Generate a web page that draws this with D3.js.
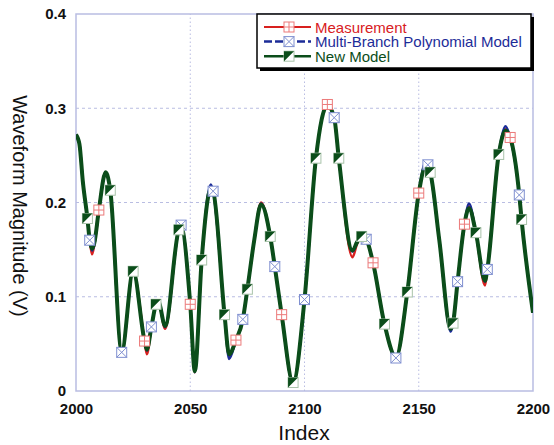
<!DOCTYPE html>
<html>
<head>
<meta charset="utf-8">
<script src="https://cdn.jsdelivr.net/npm/d3@7"></script>
<style>
  body { margin: 0; background: #fff; }
  svg { display: block; font-family: Arial, "Liberation Sans", sans-serif; }
</style>
</head>
<body>
<svg id="chart" width="554" height="445"></svg>
<script>
// knots of the three waveforms
var idx = [2000, 2001.5, 2003, 2005, 2006, 2007, 2008, 2010, 2013, 2015,
  2020, 2025, 2030, 2031, 2033, 2035, 2036, 2039, 2045, 2046,
  2050, 2052, 2055, 2059, 2060, 2065, 2067, 2070, 2073, 2075,
  2078, 2081, 2085, 2087, 2090, 2095, 2100, 2105, 2110, 2113,
  2115, 2121, 2123, 2125, 2127, 2130, 2135, 2140, 2145, 2150,
  2153, 2154, 2155, 2159, 2164, 2165, 2167, 2170, 2172, 2175,
  2179, 2180, 2185, 2188, 2190, 2194, 2195, 2200]
var measured = [0.272, 0.262, 0.222, 0.183, 0.160, 0.145, 0.155, 0.192, 0.232, 0.213,
  0.041, 0.127, 0.053, 0.039, 0.068, 0.092, 0.095, 0.066, 0.171, 0.175,
  0.092, 0.020, 0.139, 0.216, 0.212, 0.081, 0.037, 0.054, 0.076, 0.108,
  0.160, 0.200, 0.164, 0.132, 0.081, 0.008, 0.097, 0.247, 0.304, 0.290,
  0.247, 0.142, 0.156, 0.164, 0.161, 0.136, 0.071, 0.035, 0.105, 0.210,
  0.240, 0.238, 0.232, 0.160, 0.065, 0.072, 0.116, 0.177, 0.196, 0.168,
  0.112, 0.129, 0.251, 0.278, 0.269, 0.208, 0.182, 0.083]
var mbp = [0.272, 0.262, 0.222, 0.183, 0.160, 0.149, 0.155, 0.192, 0.232, 0.213,
  0.041, 0.127, 0.053, 0.043, 0.068, 0.092, 0.095, 0.068, 0.171, 0.176,
  0.092, 0.020, 0.139, 0.219, 0.212, 0.081, 0.034, 0.054, 0.076, 0.108,
  0.160, 0.199, 0.164, 0.132, 0.081, 0.008, 0.097, 0.247, 0.304, 0.290,
  0.247, 0.148, 0.157, 0.164, 0.161, 0.136, 0.071, 0.035, 0.105, 0.210,
  0.243, 0.240, 0.232, 0.160, 0.063, 0.072, 0.116, 0.177, 0.199, 0.168,
  0.116, 0.129, 0.251, 0.281, 0.269, 0.208, 0.182, 0.083]
var newModel = [0.272, 0.262, 0.222, 0.183, 0.160, 0.151, 0.157, 0.192, 0.232, 0.213,
  0.042, 0.127, 0.053, 0.044, 0.068, 0.092, 0.095, 0.069, 0.171, 0.174,
  0.092, 0.021, 0.139, 0.214, 0.212, 0.081, 0.039, 0.054, 0.076, 0.108,
  0.160, 0.198, 0.164, 0.132, 0.081, 0.009, 0.097, 0.247, 0.303, 0.290,
  0.247, 0.149, 0.158, 0.164, 0.161, 0.136, 0.071, 0.036, 0.105, 0.210,
  0.238, 0.237, 0.232, 0.160, 0.066, 0.072, 0.116, 0.177, 0.194, 0.168,
  0.117, 0.129, 0.251, 0.276, 0.269, 0.208, 0.182, 0.083]

// where each series shows its markers
var measMarks = [2010, 2030, 2050, 2070, 2090, 2110, 2130, 2150, 2170, 2190]
var mbpMarks = [2006, 2020, 2033, 2046, 2060, 2073, 2087, 2100, 2113, 2127, 2140, 2154, 2167, 2180, 2194]
var newMarks = [2005, 2015, 2025, 2035, 2045, 2055, 2065, 2075, 2085, 2095, 2105, 2115, 2125, 2135, 2145, 2155, 2165, 2175, 2185, 2195]

var xTicks = [2000, 2050, 2100, 2150, 2200]
var yTicks = [0, 0.1, 0.2, 0.3, 0.4]

var RED = "#d8201e", BLUE = "#1c2c98", GREEN = "#0b4d1a"
var FRAME = "#b9bde2"

var svg = d3.select("#chart")
var x = d3.scaleLinear().domain([2000, 2200]).range([76, 533])
var y = d3.scaleLinear().domain([0, 0.4]).range([391, 14])

// grid
svg.selectAll(".hgrid")
  .data([0.1, 0.2, 0.3])
  .enter()
  .append("line")
  .attr("x1", x(2000)).attr("x2", x(2200))
  .attr("y1", function(d) {return y(d)}).attr("y2", function(d) {return y(d)})
  .attr("stroke", FRAME).attr("stroke-width", 1)
  .attr("stroke-dasharray", "3,3")
svg.selectAll(".vgrid")
  .data([2050, 2100, 2150])
  .enter()
  .append("line")
  .attr("x1", function(d) {return x(d)}).attr("x2", function(d) {return x(d)})
  .attr("y1", y(0)).attr("y2", y(0.4))
  .attr("stroke", FRAME).attr("stroke-width", 1)
  .attr("stroke-dasharray", "1.5,2.5")

// frame
svg.append("rect")
  .attr("x", x(2000)).attr("y", y(0.4))
  .attr("width", x(2200) - x(2000)).attr("height", y(0) - y(0.4))
  .attr("fill", "none").attr("stroke", FRAME).attr("stroke-width", 1.5)

// axes as tick labels only
var xAxis = d3.axisBottom(x).tickValues(xTicks).tickSize(0).tickPadding(12).tickFormat(d3.format("d"))
var gx = svg.append("g").attr("transform", "translate(0," + y(0) + ")").call(xAxis)
var yAxis = d3.axisLeft(y).tickValues(yTicks).tickSize(0).tickPadding(10)
  .tickFormat(function(d) {return d === 0 ? "0" : d3.format(".1f")(d)})
var gy = svg.append("g").attr("transform", "translate(" + x(2000) + ",0)").call(yAxis)
svg.selectAll(".domain").remove()
svg.selectAll(".tick text")
  .attr("font-family", "Arial, 'Liberation Sans', sans-serif")
  .attr("font-size", 15).attr("font-weight", "bold").attr("fill", "#111")

// titles
svg.append("text")
  .attr("x", 304).attr("y", 440)
  .attr("text-anchor", "middle")
  .attr("font-size", 21).attr("fill", "#111")
  .text("Index")
svg.append("text")
  .attr("transform", "translate(13,206) rotate(90)")
  .attr("text-anchor", "middle")
  .attr("font-size", 20).attr("fill", "#111")
  .text("Waveform Magnitude (V)")

// lines
svg.append("clipPath").attr("id", "plotClip")
  .append("rect")
  .attr("x", x(2000)).attr("y", y(0.4) - 5)
  .attr("width", x(2200) - x(2000)).attr("height", y(0) - y(0.4) + 5)

function series(vals) {
  return idx.map(function(d, i) {return [d, vals[i]]})
}
var line = d3.line()
  .x(function(d) {return x(d[0])})
  .y(function(d) {return y(d[1])})
  .curve(d3.curveMonotoneX)

var plot = svg.append("g").attr("clip-path", "url(#plotClip)")
plot.append("path").attr("d", line(series(measured)))
  .attr("fill", "none").attr("stroke", RED).attr("stroke-width", 2.5)
plot.append("path").attr("d", line(series(mbp)))
  .attr("fill", "none").attr("stroke", BLUE).attr("stroke-width", 2.5)
plot.append("path").attr("d", line(series(newModel)))
  .attr("fill", "none").attr("stroke", GREEN).attr("stroke-width", 4)
  .attr("stroke-linejoin", "round")

// marker shapes
var S = 5
function measMarker(g) {
  g.append("rect").attr("x", -S).attr("y", -S).attr("width", 2 * S).attr("height", 2 * S)
    .attr("fill", "#fff").attr("stroke", "#ec7a7a").attr("stroke-width", 1)
  g.append("path").attr("d", "M" + (-S) + ",0H" + S + "M0," + (-S) + "V" + S)
    .attr("stroke", "#ec7a7a").attr("stroke-width", 1)
}
function mbpMarker(g) {
  g.append("rect").attr("x", -S).attr("y", -S).attr("width", 2 * S).attr("height", 2 * S)
    .attr("fill", "#fff").attr("stroke", "#7f8fd0").attr("stroke-width", 1)
  g.append("path").attr("d", "M" + (-S) + "," + (-S) + "L" + S + "," + S + "M" + S + "," + (-S) + "L" + (-S) + "," + S)
    .attr("stroke", "#7f8fd0").attr("stroke-width", 1)
}
function newMarker(g) {
  g.append("rect").attr("x", -S).attr("y", -S).attr("width", 2 * S).attr("height", 2 * S)
    .attr("fill", "#fff").attr("stroke", "#a9c3aa").attr("stroke-width", 1)
  g.append("path").attr("d", "M" + (-S) + "," + (-S) + "H" + S + "L" + (-S) + "," + S + "Z")
    .attr("fill", GREEN)
}

function valueAt(vals, k) {
  return vals[idx.indexOf(k)]
}
function drawMarks(marks, vals, shape) {
  svg.selectAll(null)
    .data(marks)
    .enter()
    .append("g")
    .attr("transform", function(d) {return "translate(" + x(d) + "," + y(valueAt(vals, d)) + ")"})
    .each(function() {shape(d3.select(this))})
}
drawMarks(measMarks, measured, measMarker)
drawMarks(mbpMarks, mbp, mbpMarker)
drawMarks(newMarks, newModel, newMarker)

// legend
var legend = svg.append("g")
legend.append("rect").attr("x", 260).attr("y", 17).attr("width", 274).attr("height", 54).attr("fill", "#000")
legend.append("rect").attr("x", 257).attr("y", 14).attr("width", 274).attr("height", 54)
  .attr("fill", "#fff").attr("stroke", "#000").attr("stroke-width", 1.5)
var legendItems = [
  {name: "Measurement", color: RED, width: 2, dash: null, shape: measMarker},
  {name: "Multi-Branch Polynomial Model", color: BLUE, width: 2.5, dash: "8,3", shape: mbpMarker},
  {name: "New Model", color: GREEN, width: 2.5, dash: null, shape: newMarker}
]
legendItems.forEach(function(item, i) {
  var cy = 27 + i * 14.6
  legend.append("line").attr("x1", 264).attr("x2", 311).attr("y1", cy).attr("y2", cy)
    .attr("stroke", item.color).attr("stroke-width", item.width)
    .attr("stroke-dasharray", item.dash)
  var g = legend.append("g").attr("transform", "translate(289," + cy + ")")
  item.shape(g)
  legend.append("text").attr("x", 315).attr("y", cy + 5.5)
    .attr("font-size", 15).attr("fill", item.color)
    .text(item.name)
})
</script>
</body>
</html>
